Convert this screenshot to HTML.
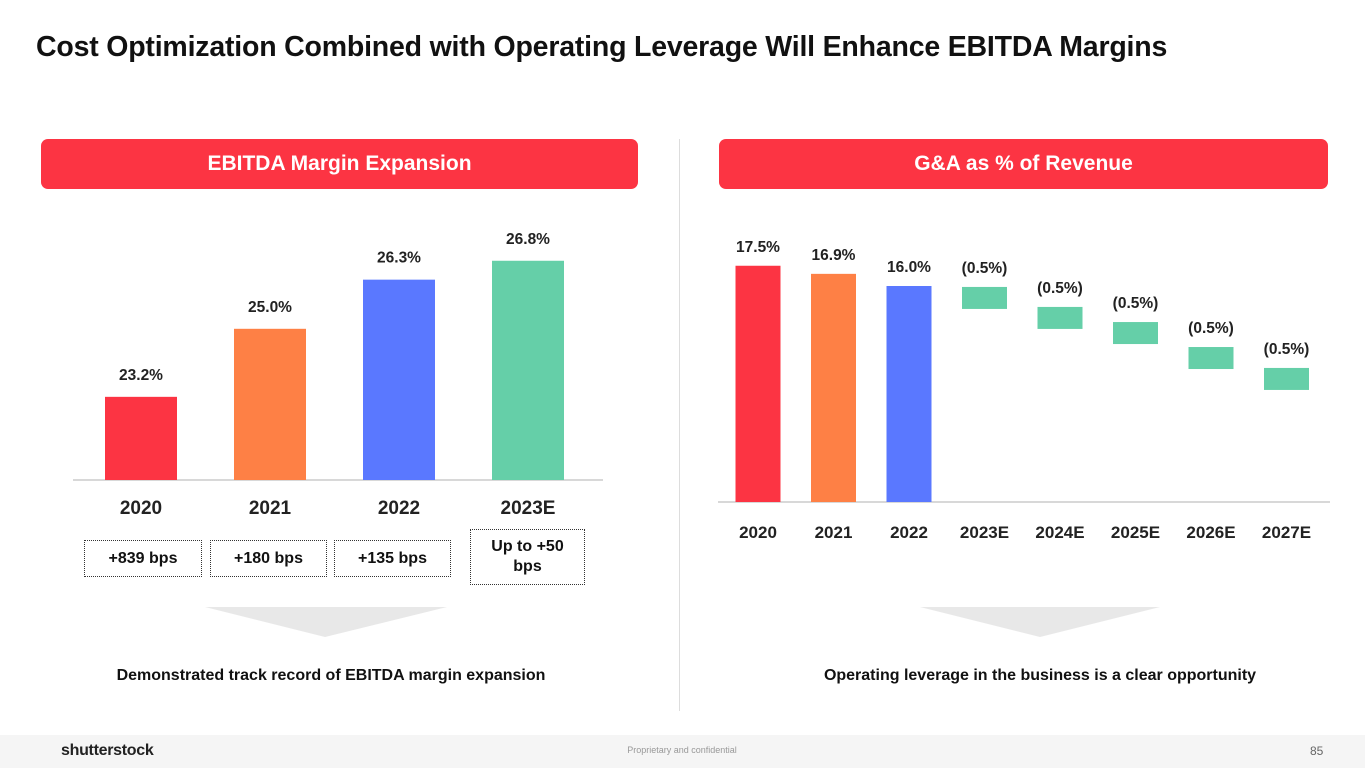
<!DOCTYPE html>
<html><head><meta charset="utf-8"><style>
body{margin:0;width:1365px;height:768px;background:#fff;font-family:"Liberation Sans",Arial,sans-serif;position:relative;overflow:hidden}
.abs{position:absolute}
h1{position:absolute;left:36px;top:31px;margin:0;font-size:28.5px;font-weight:bold;color:#111;letter-spacing:-0.2px;white-space:nowrap}
.pill{position:absolute;top:139px;height:50px;background:#fc3443;border-radius:7px;color:#fff;font-weight:bold;font-size:21px;line-height:50px;text-align:center}
.box{position:absolute;border:1.5px dotted #333;box-sizing:border-box;font-weight:bold;font-size:16px;color:#111;display:flex;align-items:center;justify-content:center;text-align:center;line-height:20px}
.cap{position:absolute;top:667px;font-weight:bold;font-size:16px;color:#111;text-align:center}
</style></head><body>
<h1>Cost Optimization Combined with Operating Leverage Will Enhance EBITDA Margins</h1>
<div class="pill" style="left:41px;width:597px">EBITDA Margin Expansion</div>
<div class="pill" style="left:719px;width:609px">G&amp;A as % of Revenue</div>
<div class="abs" style="left:679px;top:139px;width:1px;height:572px;background:#ddd"></div>

<svg class="abs" style="left:0;top:0" width="1365" height="768" id="charts">
<polygon points="205,607 447,607 325,637" fill="#e8e8e8"/>
<polygon points="920,607 1160,607 1040,637" fill="#e8e8e8"/>
</svg>

<div class="box" style="left:84px;top:540px;width:118px;height:37px">+839 bps</div>
<div class="box" style="left:210px;top:540px;width:117px;height:37px">+180 bps</div>
<div class="box" style="left:334px;top:540px;width:117px;height:37px">+135 bps</div>
<div class="box" style="left:470px;top:529px;width:115px;height:56px">Up to +50<br>bps</div>

<div class="cap" style="left:36px;width:590px">Demonstrated track record of EBITDA margin expansion</div>
<div class="cap" style="left:740px;width:600px">Operating leverage in the business is a clear opportunity</div>

<div class="abs" style="left:0;top:735px;width:1365px;height:33px;background:#f5f5f5">
<div class="abs" style="left:61px;top:7px;font-size:16px;font-weight:bold;color:#222;letter-spacing:-0.3px">shutterstock</div>
<div class="abs" style="left:582px;top:10px;width:200px;text-align:center;font-size:9px;color:#999">Proprietary and confidential</div>
<div class="abs" style="left:1310px;top:9px;font-size:12px;color:#666">85</div>
</div>

<script>
const leftCats=["2020","2021","2022","2023E"];
const leftVals=[23.2,25.0,26.3,26.8];
const leftColors=["#fc3443","#fe8045","#5a78ff","#65cfa8"];
const rightCats=["2020","2021","2022","2023E","2024E","2025E","2026E","2027E"];
const rightBase=[17.5,16.9,16.0];
const rightDeltas=[-0.5,-0.5,-0.5,-0.5,-0.5];
const rightDeltaLabels=["(0.5%)","(0.5%)","(0.5%)","(0.5%)","(0.5%)"];
const rightStepTops=[15.93,14.45,13.33,11.48,9.93];
const ns="http://www.w3.org/2000/svg";
const svg=document.getElementById('charts');
function mk(t,a){const e=document.createElementNS(ns,t);for(const k in a)e.setAttribute(k,a[k]);svg.appendChild(e);return e;}
const lBase=480,lMin=21.0,lScale=37.8;
const ly=v=>lBase-(v-lMin)*lScale;
const lx=i=>141+i*129;
let ax=mk('line',{x1:73,x2:603,y1:lBase,y2:lBase,stroke:'#ccc','stroke-width':1.5});


leftVals.forEach((v,i)=>{
 const r=mk('rect',{x:lx(i)-36,y:ly(v),width:72,height:lBase-ly(v),fill:leftColors[i]});
 
 
 const t=mk('text',{x:lx(i),y:ly(v)-17,'text-anchor':'middle','font-size':15.5,'font-weight':'bold',fill:'#222'});
 t.textContent=v.toFixed(1)+'%';
 
 
 const c=mk('text',{x:lx(i),y:514,'text-anchor':'middle','font-size':19,'font-weight':'bold',fill:'#222'});
 c.textContent=leftCats[i];
 
 
});
const rBase=502,rScale=13.5;
const ry=v=>rBase-v*rScale;
const rx=i=>758+i*75.5;
let ax2=mk('line',{x1:718,x2:1330,y1:rBase,y2:rBase,stroke:'#ccc','stroke-width':1.5});


rightBase.forEach((v,i)=>{
 const r=mk('rect',{x:rx(i)-22.5,y:ry(v),width:45,height:rBase-ry(v),fill:leftColors[i]});
 
 
 const t=mk('text',{x:rx(i),y:ry(v)-14,'text-anchor':'middle','font-size':15.5,'font-weight':'bold',fill:'#222'});
 t.textContent=v.toFixed(1)+'%';
 
 
});
rightDeltas.forEach((d,j)=>{
 const i=j+3;const top=rightStepTops[j];
 const h=22;
 const r=mk('rect',{x:rx(i)-22.5,y:ry(top),width:45,height:h,fill:'#65cfa8'});
 
 
 const t=mk('text',{x:rx(i),y:ry(top)-14,'text-anchor':'middle','font-size':15.5,'font-weight':'bold',fill:'#222'});
 t.textContent=rightDeltaLabels[j];
 
 
});
rightCats.forEach((c,i)=>{
 const t=mk('text',{x:rx(i),y:538,'text-anchor':'middle','font-size':17,'font-weight':'bold',fill:'#222'});
 t.textContent=c;
 
 
});
</script>
</body></html>
